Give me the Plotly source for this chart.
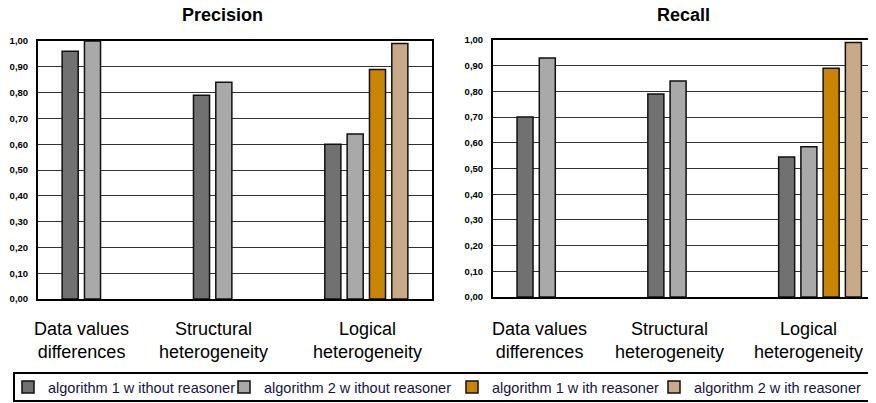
import plotly.graph_objects as go

# ---------------- data ----------------
categories = ["Data values<br>differences", "Structural<br>heterogeneity", "Logical<br>heterogeneity"]
series_names = [
    "algorithm 1 w ithout reasoner",
    "algorithm 2 w ithout reasoner",
    "algorithm 1 w ith reasoner",
    "algorithm 2 w ith reasoner",
]
precision_alg1_without = [0.96, 0.79, 0.60]
precision_alg2_without = [1.00, 0.84, 0.64]
precision_alg1_with = [None, None, 0.89]
precision_alg2_with = [None, None, 0.99]

recall_alg1_without = [0.70, 0.79, 0.545]
recall_alg2_without = [0.93, 0.84, 0.585]
recall_alg1_with = [None, None, 0.89]
recall_alg2_with = [None, None, 0.99]

y_tick_values = [0.0, 0.1, 0.2, 0.3, 0.4, 0.5, 0.6, 0.7, 0.8, 0.9, 1.0]
y_tick_labels = ["0,00", "0,10", "0,20", "0,30", "0,40", "0,50",
                 "0,60", "0,70", "0,80", "0,90", "1,00"]
panel_titles = ["Precision", "Recall"]

# ---------------- style ----------------
OFF = 8                      # default page margin of the html body
W, H = 876 - OFF, 403 - OFF  # figure fills the rest of the window
bar_colors = ["#717171", "#a9a9a9", "#c98500", "#c8a98a"]
legend_entry_widths = [171, 183, 157, 168]
label_shift_left = [-22, -22, 1]
label_shift_right = [-19, -20, -12]
FONT = "Liberation Sans, Arial, Helvetica, sans-serif"

fig = go.Figure()

precision = [precision_alg1_without, precision_alg2_without, precision_alg1_with, precision_alg2_with]
recall = [recall_alg1_without, recall_alg2_without, recall_alg1_with, recall_alg2_with]

for i, (name, vals) in enumerate(zip(series_names, precision)):
    fig.add_trace(go.Bar(
        x=categories, y=vals, name=name, xaxis="x", yaxis="y",
        marker=dict(color=bar_colors[i], line=dict(color="#111111", width=1.5)),
        showlegend=True, legendgroup=name, legendwidth=legend_entry_widths[i],
    ))
for i, (name, vals) in enumerate(zip(series_names, recall)):
    fig.add_trace(go.Bar(
        x=categories, y=vals, name=name, xaxis="x2", yaxis="y2",
        marker=dict(color=bar_colors[i], line=dict(color="#111111", width=1.5)),
        showlegend=False, legendgroup=name,
    ))


def px_x(p):
    return (p - OFF) / W


def px_y(p):
    return 1 - (p - OFF) / H


common_y = dict(
    range=[0, 1.0], tickvals=y_tick_values, ticktext=["<b>%s</b>" % t for t in y_tick_labels],
    showgrid=True, gridcolor="#333333", gridwidth=1.4, zeroline=False,
    showline=True, linecolor="black", linewidth=2,
    tickfont=dict(family=FONT, size=9.5, color="black"),
    ticks="outside", ticklen=6, tickcolor="rgba(0,0,0,0)",
)
common_x = dict(
    type="category", showticklabels=False, showgrid=False, zeroline=False,
    showline=True, linecolor="black", linewidth=2, mirror=True, ticks="",
)

fig.update_layout(
    width=W, height=H,
    margin=dict(l=0, r=0, t=0, b=0, autoexpand=False),
    paper_bgcolor="white", plot_bgcolor="white",
    barmode="group", bargap=0.32, bargroupgap=0.28,
    xaxis=dict(domain=[px_x(38), px_x(432)], range=[-0.5, 2.5], anchor="y", **common_x),
    yaxis=dict(domain=[px_y(299), px_y(41)], anchor="x", mirror=True, **common_y),
    xaxis2=dict(domain=[px_x(493), 1.0], range=[-0.5, 2.428], anchor="y2", **common_x),
    yaxis2=dict(domain=[px_y(297), px_y(40)], anchor="x2", mirror=False, **common_y),
    legend=dict(
        orientation="h", x=0, xanchor="left", y=px_y(387), yanchor="middle",
        font=dict(family=FONT, size=14.5, color="#141446"),
        bgcolor="rgba(0,0,0,0)", borderwidth=0, itemwidth=30, tracegroupgap=0,
    ),
    font=dict(family=FONT, color="black"),
    showlegend=True,
)

# legend frame
fig.add_shape(type="rect", xref="paper", yref="paper",
              x0=px_x(14), x1=1.02, y0=px_y(401), y1=px_y(373),
              line=dict(color="black", width=2), fillcolor="rgba(0,0,0,0)", layer="above")

# panel titles
fig.add_annotation(text="<b>%s</b>" % panel_titles[0], xref="paper", yref="paper",
                   x=px_x(222), y=px_y(15), xanchor="center", yanchor="middle",
                   showarrow=False, font=dict(family=FONT, size=18, color="black"))
fig.add_annotation(text="<b>%s</b>" % panel_titles[1], xref="paper", yref="paper",
                   x=px_x(683), y=px_y(15), xanchor="center", yanchor="middle",
                   showarrow=False, font=dict(family=FONT, size=18, color="black"))

# category labels
for cat, sh in zip(categories, label_shift_left):
    fig.add_annotation(text=cat, xref="x", yref="paper", x=cat, y=px_y(340.5),
                       xshift=sh, xanchor="center", yanchor="middle", showarrow=False,
                       font=dict(family=FONT, size=18, color="black"))
for cat, sh in zip(categories, label_shift_right):
    fig.add_annotation(text=cat, xref="x2", yref="paper", x=cat, y=px_y(340.5),
                       xshift=sh, xanchor="center", yanchor="middle", showarrow=False,
                       font=dict(family=FONT, size=18, color="black"))

fig.write_html("out.html")
